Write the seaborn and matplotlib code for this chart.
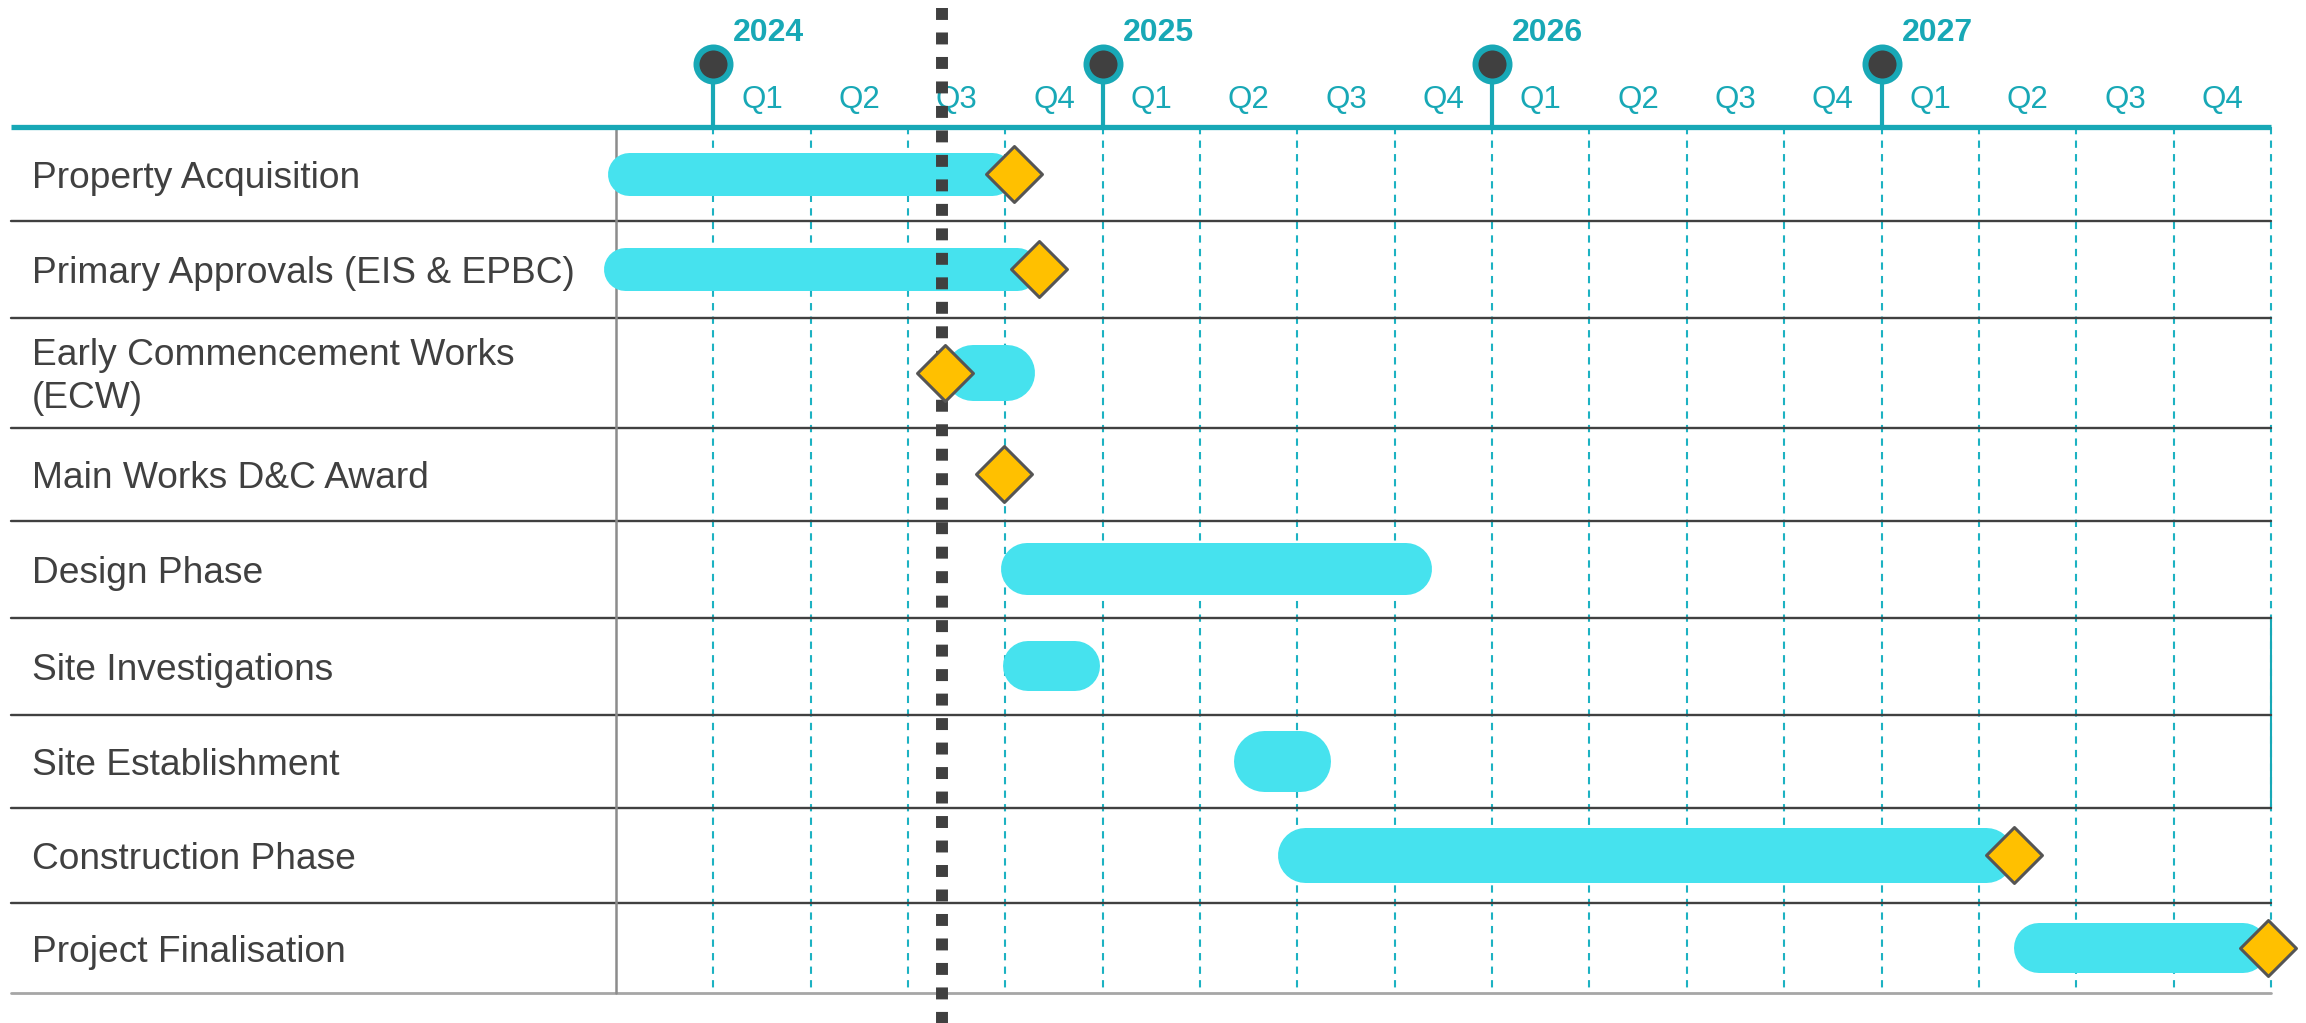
import numpy as np
import pandas as pd
import matplotlib
matplotlib.use("Agg")
import matplotlib.pyplot as plt
import seaborn as sns

# ---- data (dates as fractional years) ----
tasks = ["Property Acquisition", "Primary Approvals (EIS & EPBC)",
         "Early Commencement Works\n(ECW)", "Main Works D&C Award",
         "Design Phase", "Site Investigations", "Site Establishment",
         "Construction Phase", "Project Finalisation"]
bar_start = [2023.728, 2023.719, 2024.596, np.nan, 2024.740, 2024.744, 2025.337, 2025.448, 2027.340]
bar_end = [2024.772, 2024.835, 2024.826, np.nan, 2025.846, 2024.993, 2025.586, 2027.340, 2027.992]
milestone = [2024.772, 2024.837, 2024.596, 2024.747, np.nan, np.nan, np.nan, 2027.340, 2027.992]
today = 2024.588
years = [2024, 2025, 2026, 2027]
quarters = ["Q1", "Q2", "Q3", "Q4"]

# ---- layout / style ----
W, H = 2306, 1023
X2024, PX_YEAR = 713.3, 389.4          # pixel position of 2024 and pixels per year
HEADER_Y = 126.7
row_px = [94, 97, 110, 93, 97, 97, 93, 95, 90]
bar_px = [43, 43, 56, 0, 52, 50, 61, 55, 50]
TEAL = "#18A8B6"
DASH = "#1DB2C2"
CYAN = "#46E2EE"
GOLD = "#FFC000"
DARK = "#404040"

def px2yr(p):
    return 2024 + (p - X2024) / PX_YEAR

edges = HEADER_Y + np.concatenate([[0], np.cumsum(row_px)])
centers = (edges[:-1] + edges[1:]) / 2

df = pd.DataFrame({"task": tasks, "start": bar_start, "end": bar_end,
                   "milestone": milestone, "y": centers, "h": bar_px})

sns.set_theme(style="white")
plt.rcParams["font.family"] = ["Liberation Sans", "DejaVu Sans"]

fig = plt.figure(figsize=(W / 100, H / 100), dpi=100)
ax = fig.add_axes([0, 0, 1, 1])
ax.set_axis_off()

x_left = px2yr(11)
x_right = 2028.0

# quarter grid (dashed)
for q in np.arange(2024, 2028.01, 0.25):
    ax.plot([q, q], [HEADER_Y, edges[-1]], color=DASH, lw=1.5,
            ls=(0, (3.5, 3)), zorder=1)
# odd solid segment on the right edge
ax.plot([x_right, x_right], [edges[5], edges[7]], color=TEAL, lw=1.5, zorder=1)

# row separators
for e in edges[1:-1]:
    ax.plot([x_left, x_right], [e, e], color=DARK, lw=1.7, zorder=2)
ax.plot([x_left, x_right], [edges[-1], edges[-1]], color="#A6A6A6", lw=2, zorder=2)
ax.plot([2023.75, 2023.75], [HEADER_Y, edges[-1]], color="#8C8C8C", lw=1.8, zorder=2)

# header line, stems and year markers
ax.plot([x_left, x_right], [HEADER_Y, HEADER_Y], color=TEAL, lw=3.8,
        solid_capstyle="butt", zorder=3)
for yr in years:
    ax.plot([yr, yr], [64, HEADER_Y], color=TEAL, lw=3.0, zorder=3)
    ax.text(yr + 20 / PX_YEAR, 40.7, str(yr), fontsize=23, fontweight="bold",
            color=TEAL, ha="left", va="baseline")
    for i, q in enumerate(quarters):
        ax.text(yr + (i + 0.5) * 0.25, 108.3, q, fontsize=22.5, color=TEAL,
                ha="center", va="baseline")
sns.scatterplot(x=years, y=[64] * len(years), marker="o", s=600, color=DARK,
                edgecolor=TEAL, linewidth=4.3, zorder=4, ax=ax, legend=False)

# task labels
for lab, c in zip(tasks, centers):
    lines = lab.split("\n")
    n = len(lines)
    for i, ln in enumerate(lines):
        ax.text(px2yr(31.7), c + 14 + (i - (n - 1) / 2) * 43, ln, fontsize=26.7,
                color=DARK, ha="left", va="baseline")

# bars as pills
bars = df.dropna(subset=["start"])
for _, r in bars.iterrows():
    rad = (r["h"] / 2) / PX_YEAR
    ax.hlines(r["y"], r["start"] + rad, r["end"] - rad, colors=CYAN,
              linewidths=r["h"] * 0.72, capstyle="round", zorder=3)

# status date (dotted)
ax.plot([today, today], [8, H], color=DARK, lw=8.6, ls=(0, (1.0, 1.05)),
        dash_capstyle="butt", zorder=4)

# milestones
ms = df.dropna(subset=["milestone"])
sns.scatterplot(data=ms, x="milestone", y="y", marker="D", s=810, color=GOLD,
                edgecolor="#555555", linewidth=2.2, zorder=5, ax=ax, legend=False)
ax.set_xlim(px2yr(0), px2yr(W))
ax.set_ylim(H, 0)

fig.savefig("out.png", dpi=100)
